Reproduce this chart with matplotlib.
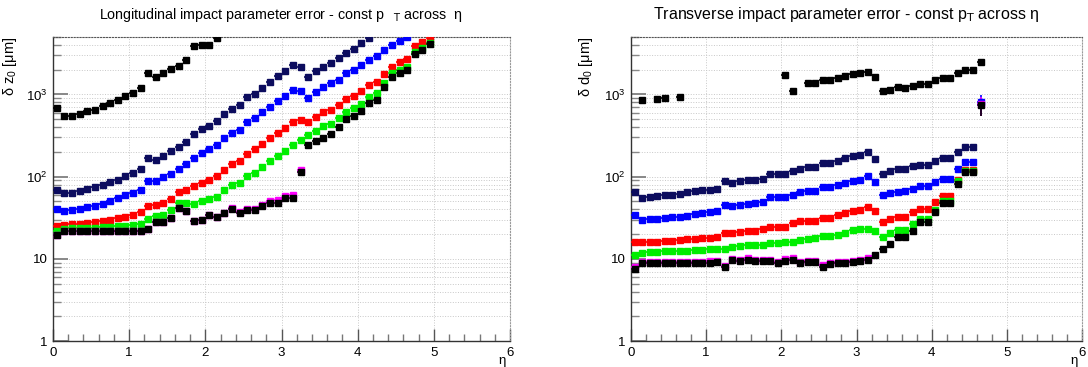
import numpy as np
import matplotlib
matplotlib.use("Agg")
import matplotlib.pyplot as plt
from matplotlib.ticker import LogLocator, FixedLocator, MultipleLocator, NullFormatter

plt.rcParams['font.family'] = ['Liberation Sans', 'DejaVu Sans']
plt.rcParams['mathtext.default'] = 'regular'

# eta bin centres, bin width 0.1
eta = np.round(np.arange(50) * 0.1 + 0.05, 2)

# ---------------- longitudinal (delta z0) ----------------
z0_black_top = [676, 550, 550, 585, 625, 650, 715, 790, 845, 945, 1040, 1200,
                1820, 1650, 1800, 2030, 2250, 2600, 3900, 3950, 4050, 4800]
z0_navy = [69, 62.6, 63, 67, 70.6, 74, 79, 85, 92, 102, 112, 124, 167, 159, 178, 203, 232, 266, 332,
           378, 409, 478, 574, 656, 745, 930, 1020, 1200, 1430, 1670, 1910, 2270, 2150, 1650, 1910, 2180, 2440,
           2800, 3220, 3610, 4260, 4900]
z0_blue = [40.7, 38.5, 39, 40.3, 42.7, 44, 47, 51, 55, 59, 64, 69, 89, 88, 98, 109, 123, 142, 168,
           194, 214, 240, 293, 341, 374, 467, 519, 610, 700, 840, 965, 1130, 1110, 915, 1070, 1220, 1360,
           1520, 1800, 1990, 2260, 2630, 2930, 3450, 3980, 4460, 4990]
z0_red = [24.8, 26, 26.3, 26.5, 27.2, 28, 28.5, 29.9, 31, 32.3, 34.4, 36.7, 43.6, 44.8, 47.9, 53.7, 64.6, 69.5, 76,
          84, 91, 101, 122, 141, 154, 191, 214, 250, 292, 340, 395, 465, 492, 465, 525, 610, 650,
          750, 875, 955, 1110, 1290, 1430, 1780, 2180, 2450, 2680, 3880, 4350, 4900]
z0_green = [21.5, 23, 23.4, 23.4, 24, 24, 24.3, 24.5, 24.8, 25.1, 25.8, 26.7, 30.5, 33.3, 34, 39.5, 47.8, 47.8, 46.9,
            50, 53.8, 56.5, 68, 79, 84, 102, 110, 132, 154, 180, 203, 240, 277, 317, 357, 410, 437,
            520, 610, 690, 770, 935, 1050, 1390, 1800, 2000, 2170, 3300, 3670, 4250]
z0_magenta = [19.6, 21.5, 21.9, 21.9, 21.9, 21.9, 21.9, 21.9, 21.9, 21.9, 21.9, 22, 23.2, 28.2, 27.7, 31.3, 41.5, 38.5, 28.5,
              29.9, 34, 31.9, 35.7, 42, 37, 40, 40, 45.5, 50.5, 52, 58.5, 59.5, 119]
z0_black_low = [19.6, 21.5, 21.9, 21.9, 21.9, 21.9, 21.9, 21.9, 21.9, 21.9, 21.9, 22, 23.2, 28.2, 27.7, 31.3, 41.5, 38.5, 28.5,
                29.9, 34, 31.9, 35.7, 40.3, 35.7, 39, 39, 43.6, 47.8, 48, 55, 55, 115, 240, 270, 299, 332,
                405, 505, 550, 625, 790, 850, 1240, 1650, 1800, 2000, 3070, 3470, 4100]

# ---------------- transverse (delta d0) ----------------
d0_black_top_eta = [0.15, 0.35, 0.45, 0.65, 2.05, 2.15, 2.35, 2.45, 2.55, 2.65, 2.75, 2.85, 2.95, 3.05,
                    3.15, 3.25, 3.35, 3.45, 3.55, 3.65, 3.75, 3.85, 3.95, 4.05, 4.15, 4.25, 4.35, 4.45, 4.55, 4.65]
d0_black_top = [850, 885, 900, 935, 1720, 1100, 1360, 1380, 1480, 1480, 1590, 1660, 1750, 1820,
                1900, 1630, 1090, 1140, 1220, 1200, 1260, 1350, 1350, 1500, 1570, 1600, 1830, 1960, 1960, 2500]
d0_navy = [65, 54.4, 56, 57.5, 59, 60.6, 61.7, 64.3, 66, 68, 69.5, 71.4, 88.6, 84.5, 87.6, 90, 90, 93.6, 108,
           109, 109, 116, 125, 132, 132, 147, 146, 157, 167, 177, 183, 197, 166, 109, 116, 124, 124,
           133, 140, 140, 157, 169, 168, 198, 228, 228]
d0_blue = [33.7, 29.6, 30.1, 30.8, 31, 31.9, 32.5, 33.4, 35, 36.3, 37.3, 37.8, 45.6, 43.6, 44.8, 47, 47.8, 49.5, 56,
           56, 56, 60.3, 64.3, 66, 66, 74, 75.5, 80, 84, 89.5, 91, 101, 86, 60, 63, 65.7, 66,
           70.7, 76, 76, 85, 93.6, 93.6, 124, 152, 152, 800]
d0_red = [16.2, 15.9, 15.9, 16, 16.4, 16.6, 16.9, 17.2, 17.4, 17.7, 18.0, 18.4, 20.5, 20.5, 21.3, 21.9, 22.1, 23, 24.7,
          24.7, 24.7, 27.2, 28.5, 29, 29, 31.8, 31.8, 33.7, 36, 37.8, 39.6, 42.2, 37.8, 28, 30.3, 32.2, 32.2,
          36.7, 40.3, 40, 48.8, 58.7, 58.7, 92, 122, 122]
d0_green = [11, 11.9, 12, 12, 12.3, 12.3, 12.5, 12.6, 12.9, 12.9, 13.1, 13.1, 13.1, 14.1, 14.4, 14.7, 14.8, 14.8, 15.5,
            15.5, 15.8, 16.2, 17, 17.5, 17.9, 18.7, 18.7, 19.6, 20.9, 22.6, 23, 23, 21.8, 18.4, 20.5, 22.6, 22.6,
            26.5, 30.8, 30.8, 39.6, 49.9, 49.9, 88, 116, 116]
d0_magenta_eta = list(eta[:32]) + [4.65]
d0_magenta = [7.9, 9.1, 9.2, 9.2, 9.2, 9.2, 9.2, 9.2, 9.2, 9.2, 9.3, 9.4, 8.2, 9.95, 9.7, 10.1, 9.8, 9.8, 9.8,
              9.2, 9.9, 10.1, 9.2, 9.4, 9.4, 8.4, 9.0, 9.2, 9.2, 9.4, 9.8, 10.1, 760]
d0_black_low = [7.55, 8.85, 8.9, 8.9, 8.9, 8.95, 8.95, 8.95, 8.95, 8.95, 9.0, 9.1, 7.9, 9.6, 9.4, 9.75, 9.5, 9.5, 9.5,
                8.9, 9.5, 9.75, 8.9, 9.1, 9.1, 8.05, 8.7, 8.85, 8.85, 9.1, 9.5, 9.75, 11.2, 13.2, 15.1, 18.2, 18.3,
                21.5, 27.7, 27.7, 36.7, 47.8, 47.8, 82, 113, 113, 735]
# the odd last bin (eta 4.65) has large vertical errors
d0_last_err = {'blue': (230, 180), 'magenta': (210, 170), 'black': (190, 150)}

NAVY = '#0c0c5e'
BLUE = '#0000ff'
RED = '#ff0000'
GREEN = '#00ee00'
MAGENTA = '#ff00ff'
BLACK = '#000000'


def draw(ax, x, y, color, yerr=None):
    ax.errorbar(x, y, xerr=0.05, yerr=yerr, fmt='s', ms=3.9, color=color, mec=color,
                elinewidth=1.2, capsize=0, zorder=3)


def style(ax, ylabel, label_x):
    ax.set_yscale('log')
    ax.set_xlim(0, 6)
    ax.set_ylim(1, 5000)
    ax.yaxis.set_major_locator(FixedLocator([1, 10, 100, 1000]))
    ax.set_yticklabels(['1', '10', '10$^{2}$', '10$^{3}$'])
    ax.yaxis.set_minor_locator(LogLocator(base=10, subs=np.arange(2, 10)))
    ax.yaxis.set_minor_formatter(NullFormatter())
    ax.xaxis.set_major_locator(MultipleLocator(1))
    ax.xaxis.set_minor_locator(MultipleLocator(0.2))
    ax.tick_params(which='both', direction='in', top=False, right=False,
                   color='#555555', labelsize=9.5, pad=4)
    ax.tick_params(axis='y', which='major', length=11, width=1.4, color='#888888')
    ax.tick_params(axis='y', which='minor', length=6, width=1.0, color='#888888')
    ax.tick_params(axis='x', which='major', length=9, width=1)
    ax.tick_params(axis='x', which='minor', length=5, width=1, color='#777777')
    ax.grid(True, which='major', axis='x', linestyle=':', color='#c8c8c8', lw=0.7)
    ax.grid(True, which='both', axis='y', linestyle=':', color='#c8c8c8', lw=0.7)
    ax.set_axisbelow(True)
    for s in ['left', 'bottom']:
        ax.spines[s].set_color('#333333')
        ax.spines[s].set_linewidth(1)
    ax.spines['top'].set_linestyle(':')
    ax.spines['top'].set_color('#555555')
    ax.spines['right'].set_linestyle(':')
    ax.spines['right'].set_color('#999999')
    ax.set_ylabel(ylabel, loc='top', fontsize=10.5)
    ax.yaxis.set_label_coords(label_x, 1.0)
    ax.set_xlabel('η', loc='right', fontsize=9.5)
    ax.xaxis.set_label_coords(0.99, -0.045)


fig = plt.figure(figsize=(10.88, 3.67), dpi=100)
ax1 = fig.add_axes([53 / 1088, 26 / 367, 457 / 1088, 304 / 367])
ax2 = fig.add_axes([631 / 1088, 26 / 367, 451 / 1088, 304 / 367])

# left panel
draw(ax1, eta[:len(z0_black_top)], z0_black_top, BLACK)
draw(ax1, eta[:len(z0_navy)], z0_navy, NAVY)
draw(ax1, eta[:len(z0_blue)], z0_blue, BLUE)
draw(ax1, eta, z0_red, RED)
draw(ax1, eta, z0_green, GREEN)
draw(ax1, eta[:len(z0_magenta)], z0_magenta, MAGENTA)
draw(ax1, eta, z0_black_low, BLACK)
style(ax1, 'δ z$_{0}$ [μm]', -0.075)

# right panel
draw(ax2, d0_black_top_eta, d0_black_top, BLACK)
draw(ax2, eta[:len(d0_navy)], d0_navy, NAVY)
err_b = [[0] * 46 + [d0_last_err['blue'][0]], [0] * 46 + [d0_last_err['blue'][1]]]
draw(ax2, eta[:len(d0_blue)], d0_blue, BLUE, yerr=err_b)
draw(ax2, eta[:len(d0_red)], d0_red, RED)
draw(ax2, eta[:len(d0_green)], d0_green, GREEN)
err_m = [[0] * 32 + [d0_last_err['magenta'][0]], [0] * 32 + [d0_last_err['magenta'][1]]]
draw(ax2, d0_magenta_eta, d0_magenta, MAGENTA, yerr=err_m)
err_k = [[0] * 46 + [d0_last_err['black'][0]], [0] * 46 + [d0_last_err['black'][1]]]
draw(ax2, eta[:len(d0_black_low)], d0_black_low, BLACK, yerr=err_k)
style(ax2, 'δ d$_{0}$ [μm]', -0.08)

fig.text(281 / 1088, 1 - 15 / 367,
         'Longitudinal impact parameter error - const p$_{\\ \\ \\ \\mathrm{T}}$ across  η',
         ha='center', va='center', fontsize=10.3)
fig.text(846 / 1088, 1 - 15 / 367,
         'Transverse impact parameter error - const p$_{\\mathrm{T}}$ across η',
         ha='center', va='center', fontsize=11.5)

fig.savefig('out.png', dpi=100)
